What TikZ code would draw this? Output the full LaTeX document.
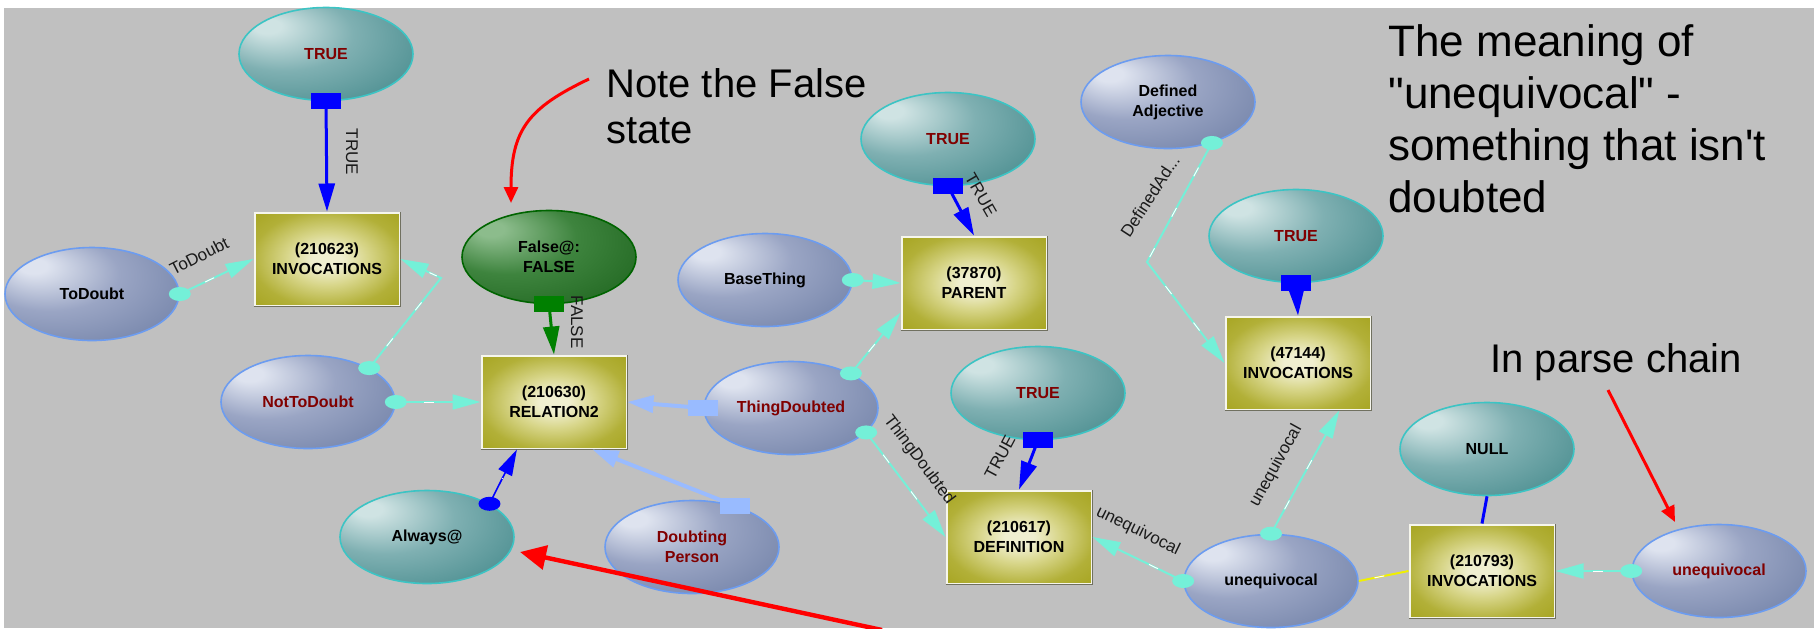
\documentclass[tikz,border=0pt]{standalone}
\usepackage{fontspec}
\setmainfont{Liberation Sans}
\newfontfamily\annfont{Liberation Sans}[Ligatures=TeXOff]
\usetikzlibrary{arrows.meta,shapes.geometric}

\definecolor{bgc}{HTML}{C0C0C0}
\definecolor{bgA}{HTML}{DEE3EF}
\definecolor{bgB}{HTML}{9AA5C4}
\definecolor{bgC}{HTML}{7080A6}
\definecolor{bgD}{HTML}{4E5C84}
\definecolor{bgline}{HTML}{6C9CF0}
\definecolor{tlA}{HTML}{CFE3E3}
\definecolor{tlB}{HTML}{7FB0B2}
\definecolor{tlC}{HTML}{44898B}
\definecolor{tlD}{HTML}{256566}
\definecolor{tlline}{HTML}{3CC4C4}
\definecolor{gnA}{HTML}{8CBC8C}
\definecolor{gnB}{HTML}{3E843E}
\definecolor{gnC}{HTML}{1E641E}
\definecolor{gnD}{HTML}{0A420A}
\definecolor{gnline}{HTML}{006400}
\definecolor{olA}{HTML}{F0EFD0}
\definecolor{olB}{HTML}{D8D68A}
\definecolor{olC}{HTML}{B2B038}
\definecolor{olD}{HTML}{A2A018}
\definecolor{olE}{HTML}{9A9812}
\definecolor{oledge}{HTML}{F6F6EC}
\definecolor{olshadow}{HTML}{707060}
\definecolor{dkred}{HTML}{800000}
\definecolor{labc}{HTML}{1A1A1A}
\definecolor{aqua}{HTML}{74F0D8}
\definecolor{lblue}{HTML}{99BBFF}
\definecolor{grn}{HTML}{008000}
\definecolor{yel}{HTML}{F0F000}

\pgfdeclareradialshading{bgball}{\pgfpoint{-18bp}{16bp}}{color(0bp)=(bgA); color(4bp)=(bgA); color(20bp)=(bgB); color(42bp)=(bgC); color(62bp)=(bgD)}
\pgfdeclareradialshading{tlball}{\pgfpoint{-18bp}{16bp}}{color(0bp)=(tlA); color(4bp)=(tlA); color(20bp)=(tlB); color(42bp)=(tlC); color(62bp)=(tlD)}
\pgfdeclareradialshading{gnball}{\pgfpoint{-18bp}{16bp}}{color(0bp)=(gnA); color(4bp)=(gnA); color(20bp)=(gnB); color(42bp)=(gnC); color(62bp)=(gnD)}
\pgfdeclareradialshading{olshade}{\pgfpointorigin}{color(0bp)=(olA); color(5bp)=(olA); color(14bp)=(olB); color(26bp)=(olC); color(40bp)=(olD); color(70bp)=(olE)}

\tikzset{
  ell/.style={ellipse, minimum width=87pt, minimum height=46.5pt, inner sep=0pt,
    align=center, font=\bfseries\fontsize{8}{10}\selectfont, line width=0.8pt},
  bgn/.style={ell, shading=bgball, draw=bgline},
  tln/.style={ell, shading=tlball, draw=tlline},
  gnn/.style={ell, shading=gnball, draw=gnline},
  rtxt/.style={text=dkred},
  box/.style={rectangle, minimum width=72.5pt, minimum height=46.5pt, inner sep=0pt,
    align=center, font=\bfseries\fontsize{8}{10}\selectfont, shading=olshade,
    draw=oledge, line width=1pt},
  elab/.style={font=\fontsize{8.5}{10}\selectfont, text=labc, inner sep=0pt},
  ann/.style={anchor=north west, align=left, inner sep=0pt, text=black},
  whitedash/.style={postaction={draw=white, line width=0.5pt, -, dash pattern=on 5pt off 18pt, dash phase=-8pt, shorten >=16pt, shorten <=6pt}},
  cyanedge/.style={draw=aqua, line width=1pt, -{Triangle[length=14pt,width=7.5pt]}, whitedash},
  blueedge/.style={draw=blue, line width=1.5pt, -{Triangle[length=14pt,width=8pt]}},
  greenedge/.style={draw=grn, line width=1.5pt, -{Triangle[length=14pt,width=8pt]}},
  lbedge/.style={draw=lblue, line width=2pt, -{Triangle[length=13pt,width=8.5pt]}},
  thinblue/.style={draw=blue, line width=0.8pt, -{Triangle[length=13pt,width=7.5pt]}, whitedash},
  plainline/.style={line width=1pt},
  rededge/.style={draw=red, line width=1.5pt, -{Triangle[length=8pt,width=7pt]}},
  bigred/.style={draw=red, line width=2.2pt, -{Triangle[length=13pt,width=12pt]}},
}
\newcommand{\dotmark}[2]{\fill[#2] #1 ellipse (5.5pt and 3.5pt);}
\newcommand{\sqmark}[2]{\fill[#2] #1 ++(-7.5pt,-4pt) rectangle ++(15pt,8pt);}

\begin{document}
\begin{tikzpicture}[x=0.5pt,y=-0.5pt]
\useasboundingbox (0,0) rectangle (1814,628);
\fill[white] (0,0) rectangle (1814,628);
\fill[bgc] (4,8) rectangle (1814,628);

% ellipses
\node[tln, rtxt] (true1) at (326,54) {TRUE};
\node[bgn] (todoubt) at (92,294) {ToDoubt};
\node[gnn] (false) at (549,257) {False@:\\FALSE};
\node[bgn, rtxt] (nottodoubt) at (308,402) {NotToDoubt};
\node[tln] (always) at (427,537) {Always@};
\node[bgn, rtxt] (doubting) at (692,547) {Doubting\\Person};
\node[bgn, rtxt] (thing) at (791,408) {ThingDoubted};
\node[bgn] (base) at (765,280) {BaseThing};
\node[tln, rtxt] (true2) at (948,139) {TRUE};
\node[bgn] (defadj) at (1168,102) {Defined\\Adjective};
\node[tln, rtxt] (true3) at (1296,236) {TRUE};
\node[tln, rtxt] (true4) at (1038,393) {TRUE};
\node[bgn] (uneq) at (1271,581) {unequivocal};
\node[tln] (null) at (1487,449) {NULL};
\node[bgn, rtxt] (uneqr) at (1719,571) {unequivocal};

% boxes
\node[box] (inv1) at (327,259) {(210623)\\INVOCATIONS};
\node[box] (rel) at (554,402) {(210630)\\RELATION2};
\node[box] (parent) at (974,283) {(37870)\\PARENT};
\node[box] (inv3) at (1298,363) {(47144)\\INVOCATIONS};
\node[box] (def) at (1019,537) {(210617)\\DEFINITION};
\node[box] (inv4) at (1482,571) {(210793)\\INVOCATIONS};
\foreach \n in {inv1,rel,parent,inv3,def,inv4}
  \draw[olshadow, line width=0.8pt] (\n.south west) -- (\n.south east) -- (\n.north east);

% bend points
\coordinate (b1) at (441,278);
\coordinate (b2) at (1147,262);

% connectors
\draw[blueedge] (true1.south) -- (inv1.north);
\draw[cyanedge] (todoubt.east) -- (inv1.west);
\draw[cyanedge] (nottodoubt.29) -- (b1) -- (inv1.east);
\draw[cyanedge] (nottodoubt.east) -- (rel.west);
\draw[greenedge] (false.south) -- (rel.north);
\draw[thinblue] (always.28) -- (rel.232);
\draw[lbedge] (thing.west) -- (rel.east);
\draw[lbedge] (doubting.44) -- (rel.309);
\draw[cyanedge] (base.east) -- (parent.west);
\draw[cyanedge] (thing.30) -- (parent.202);
\draw[blueedge] (true2.south) -- (parent.north);
\draw[cyanedge] (thing.342) -- (def.west);
\draw[blueedge] (true4.south) -- (def.north);
\draw[cyanedge] (uneq.west) -- (def.east);
\draw[cyanedge] (uneq.north) -- (inv3.311);
\draw[cyanedge] (defadj.317) -- (b2) -- (inv3.west);
\draw[blueedge] (true3.south) -- (inv3.north);
\draw[plainline, draw=blue, line width=1.5pt] (null.south) -- (inv4.north);
\draw[plainline, draw=yel, postaction={draw=white, line width=0.5pt, dash pattern=on 5pt off 18pt, dash phase=-8pt}] (uneq.east) -- (inv4.west);
\draw[cyanedge] (uneqr.west) -- (inv4.east);

% end markers
\sqmark{(true1.south)}{blue}
\sqmark{(true2.south)}{blue}
\sqmark{(true3.south)}{blue}
\sqmark{(true4.south)}{blue}
\sqmark{(false.south)}{grn}
\sqmark{(thing.west)}{lblue}
\sqmark{(doubting.44)}{lblue}
\dotmark{(todoubt.east)}{aqua}
\dotmark{(nottodoubt.29)}{aqua}
\dotmark{(nottodoubt.east)}{aqua}
\dotmark{(always.28)}{blue}
\dotmark{(base.east)}{aqua}
\dotmark{(thing.30)}{aqua}
\dotmark{(thing.342)}{aqua}
\dotmark{(defadj.317)}{aqua}
\dotmark{(uneq.west)}{aqua}
\dotmark{(uneq.north)}{aqua}
\dotmark{(uneqr.west)}{aqua}

% edge labels
\node[elab, rotate=-90] (l1) at (352,152) {TRUE};
\node[elab, rotate=27] (l2) at (199,256) {ToDoubt};
\node[elab, rotate=-90] (l3) at (577,322) {FALSE};
\node[elab, rotate=-60] (l4) at (981,195) {TRUE};
\node[elab, rotate=-53] (l5) at (919,460) {ThingDoubted};
\node[elab, rotate=62] (l6) at (1000,457) {TRUE};
\node[elab, rotate=-26] (l7) at (1138,531) {unequivocal};
\node[elab, rotate=61] (l8) at (1276,466) {unequivocal};
\node[elab, rotate=57] (l9) at (1150,196) {DefinedAd...};

% annotations
\node[ann, font={\annfont\fontsize{20}{23}\selectfont}] (note) at (606,68) {Note the False\\state};
\node[ann, font={\annfont\fontsize{22}{26}\selectfont}] (meaning) at (1388,24) {The meaning of\\"unequivocal" -\\something that isn't\\doubted};
\node[ann, font={\annfont\fontsize{20}{23}\selectfont}] (parse) at (1490,343) {In parse chain};

% red arrows
\coordinate (r1s) at (589,79);
\coordinate (r1e) at (511,203);
\draw[rededge] (r1s) .. controls (528,108) and (511,130) .. (r1e);
\coordinate (r2s) at (1608,390);
\coordinate (r2e) at (1675,522);
\draw[rededge] (r2s) -- (r2e);
\coordinate (r3s) at (882,630);
\coordinate (r3e) at (520,552);
\draw[bigred] (r3s) -- (r3e);
\end{tikzpicture}
\end{document}
